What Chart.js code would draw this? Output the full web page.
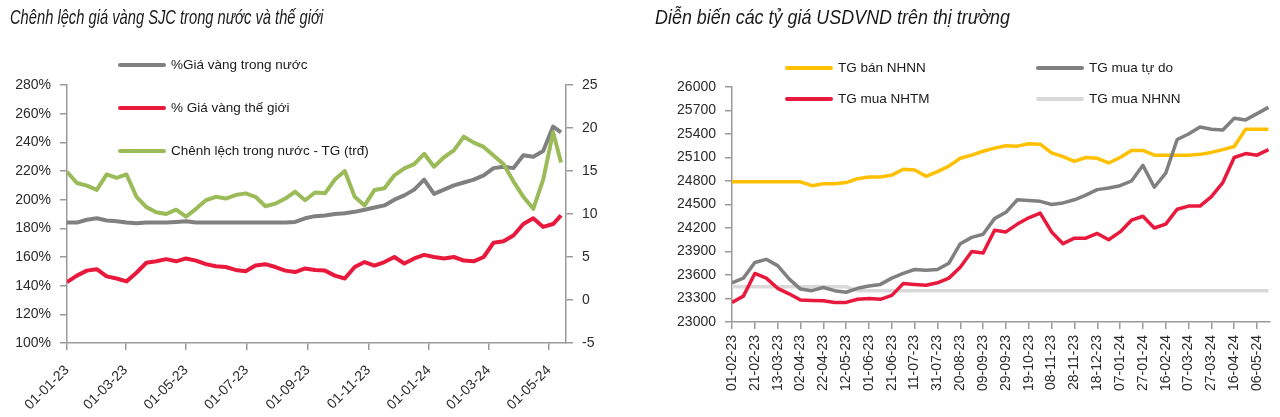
<!DOCTYPE html>
<html>
<head>
<meta charset="utf-8">
<script src="https://cdn.jsdelivr.net/npm/chart.js@4.4.1/dist/chart.umd.min.js"></script>
<style>
  body { margin: 0; background: #fff; font-family: "Liberation Sans", Arial, sans-serif; }
  #page { position: relative; width: 1280px; height: 417px; overflow: hidden; }
  .panel { position: absolute; top: 0; width: 640px; height: 417px; }
  .title { position: absolute; top: 6px; font-style: italic; font-size: 21px; line-height: 21px; color: #1a1a1a; white-space: nowrap; transform-origin: 0 0; }
  .lg { position: absolute; font-size: 13.5px; line-height: 16px; color: #1a1a1a; white-space: nowrap; }
  .sw { position: absolute; height: 4px; border-radius: 2px; }
</style>
</head>
<body>
<div id="page">
  <div class="panel" style="left:0"><canvas id="gold" width="640" height="417"></canvas></div>
  <div class="panel" style="left:640px"><canvas id="fx" width="640" height="417"></canvas></div>
  <div class="title" id="t1" style="left:10px" data-w="313">Chênh lệch giá vàng SJC trong nước và thế giới</div>
  <div class="title" id="t2" style="left:655px" data-w="355">Diễn biến các tỷ giá USDVND trên thị trường</div>
</div>
<script>
// ---- vàng SJC (ngày lấy mẫu, giá trị)
const goldDates = ['2023-01-01','2023-01-11','2023-01-21','2023-01-31','2023-02-10','2023-02-20','2023-03-02','2023-03-12','2023-03-22','2023-04-01',
  '2023-04-11','2023-04-21','2023-05-01','2023-05-11','2023-05-21','2023-05-31','2023-06-10','2023-06-20','2023-06-30','2023-07-10',
  '2023-07-20','2023-07-30','2023-08-09','2023-08-19','2023-08-29','2023-09-08','2023-09-18','2023-09-28','2023-10-08','2023-10-18',
  '2023-10-28','2023-11-07','2023-11-17','2023-11-27','2023-12-07','2023-12-17','2023-12-27','2024-01-06','2024-01-16','2024-01-26',
  '2024-02-05','2024-02-15','2024-02-25','2024-03-06','2024-03-16','2024-03-26','2024-04-05','2024-04-15','2024-04-25','2024-05-05','2024-05-13'];
const goldDomestic = [184,184,186,187,185.5,185,184,183.5,184,184,
  184,184.5,185,184,184,184,184,184,184,184,
  184,184,184,184.5,187,188.5,189,190,190.5,191.5,
  193,194.5,196,200,203,207,214,204,207,210,
  212,214,217,222,223,222,231,230,234,251,247];
const goldWorld = [142.5,147,150.5,151.5,146.5,145,143,149,156,157,
  158.5,157,159,157.5,155,153.5,153,151,150,154,
  155,153,150.5,149.5,152,151,150.5,147,145,153,
  156.5,154,156.5,160,155.5,159,161.5,160,159,160,
  157.5,157,160,170,171,175,183,187,181,183,189];
const goldGap = [14.9,13.6,13.3,12.8,14.6,14.2,14.6,12.0,10.8,10.2,
  10.0,10.5,9.7,10.6,11.6,12.0,11.8,12.2,12.4,12.0,
  10.9,11.2,11.8,12.6,11.6,12.5,12.4,14.0,15.0,12.0,
  11.0,12.8,13.0,14.5,15.3,15.8,17.0,15.5,16.6,17.4,
  19.0,18.3,17.8,16.8,15.8,13.8,12.0,10.6,14.0,19.5,16.0];
const goldTicks = ['01-01-23','01-03-23','01-05-23','01-07-23','01-09-23','01-11-23','01-01-24','01-03-24','01-05-24'];
const goldNames = ['%Giá vàng trong nước','% Giá vàng thế giới','Chênh lệch trong nước - TG (trđ)'];

// ---- tỷ giá USDVND
const fxDates = ['2023-02-01','2023-02-11','2023-02-21','2023-03-03','2023-03-13','2023-03-23','2023-04-02','2023-04-12','2023-04-22','2023-05-02',
  '2023-05-12','2023-05-22','2023-06-01','2023-06-11','2023-06-21','2023-07-01','2023-07-11','2023-07-21','2023-07-31','2023-08-10',
  '2023-08-20','2023-08-30','2023-09-09','2023-09-19','2023-09-29','2023-10-09','2023-10-19','2023-10-29','2023-11-08','2023-11-18',
  '2023-11-28','2023-12-08','2023-12-18','2023-12-28','2024-01-07','2024-01-17','2024-01-27','2024-02-06','2024-02-16','2024-02-26',
  '2024-03-07','2024-03-17','2024-03-27','2024-04-06','2024-04-16','2024-04-26','2024-05-06','2024-05-16'];
const fxSbvSell = [24790,24790,24790,24790,24790,24790,24790,24740,24765,24765,
  24780,24830,24850,24850,24875,24950,24940,24860,24920,24990,
  25090,25130,25180,25220,25250,25245,25275,25270,25160,25110,
  25050,25100,25090,25030,25100,25190,25190,25130,25130,25130,
  25130,25140,25165,25200,25240,25460,25460,25460];
const fxFree = [23500,23560,23760,23800,23720,23550,23420,23400,23440,23400,
  23380,23430,23460,23480,23560,23620,23670,23660,23670,23750,
  24000,24080,24120,24320,24400,24560,24550,24540,24500,24520,
  24560,24620,24690,24710,24740,24800,25000,24720,24900,25330,
  25400,25490,25460,25450,25600,25580,25660,25740];
const fxBank = [23250,23330,23620,23560,23430,23360,23280,23275,23270,23250,
  23250,23290,23300,23290,23340,23490,23480,23470,23500,23560,
  23700,23900,23880,24170,24150,24250,24330,24390,24150,24000,
  24070,24070,24130,24050,24150,24300,24350,24200,24250,24440,
  24480,24480,24600,24780,25100,25150,25130,25200];
const fxSbvBuy = [23450,23450,23450,23450,23450,23450,23450,23450,23450,23450,
  23450,23400,23400,23400,23400,23400,23400,23400,23400,23400,
  23400,23400,23400,23400,23400,23400,23400,23400,23400,23400,
  23400,23400,23400,23400,23400,23400,23400,23400,23400,23400,
  23400,23400,23400,23400,23400,23400,23400,23400];
const fxTicks = ['01-02-23','21-02-23','13-03-23','02-04-23','22-04-23','12-05-23','01-06-23','21-06-23','11-07-23','31-07-23',
  '20-08-23','09-09-23','29-09-23','19-10-23','08-11-23','28-11-23','18-12-23','07-01-24','27-01-24','16-02-24',
  '07-03-24','27-03-24','16-04-24','06-05-24'];
const fxNames = ['TG bán NHNN','TG mua tự do','TG mua NHTM','TG mua NHNN'];

const DAY = 864e5;
const dmy = s => { const [d, m, y] = s.split('-').map(Number); return Date.UTC(2000 + y, m - 1, d); };
const iso = s => Date.parse(s + 'T00:00:00Z');
const pts = (dates, vals, base) => dates.map((d, i) => ({ x: (iso(d) - base) / DAY, y: vals[i] }));

const axisCol = '#9a9a9a';
const tickFont = { family: '"Liberation Sans", Arial, sans-serif', size: 14 };
const gridOff = { drawOnChartArea: false, drawTicks: true, tickLength: 7, color: axisCol, lineWidth: 1.5 };
const border = { display: true, color: axisCol, width: 1.5 };
const line = (data, color, w, yAxisID) => ({ data, borderColor: color, borderWidth: w, pointRadius: 0, tension: 0, yAxisID, borderJoinStyle: 'round' });

Chart.defaults.color = '#2b2b2b';

// ---- biểu đồ trái
const g0 = Date.UTC(2023, 0, 1);
new Chart(document.getElementById('gold'), {
  type: 'line',
  data: {
    datasets: [
      line(pts(goldDates, goldGap, g0), '#9bbb59', 4, 'y1'),
      line(pts(goldDates, goldDomestic, g0), '#808080', 4, 'y'),
      line(pts(goldDates, goldWorld, g0), '#e8193c', 4, 'y')
    ]
  },
  options: {
    responsive: false, animation: false, events: [],
    layout: { padding: { top: 85, left: 0, right: 0, bottom: 0 } },
    plugins: { legend: { display: false }, tooltip: { enabled: false } },
    scales: {
      x: {
        type: 'linear', min: 0, max: 503,
        afterBuildTicks: s => { s.ticks = goldTicks.map(t => ({ value: (dmy(t) - g0) / DAY })); },
        afterFit: s => { s.height = 74; },
        ticks: { autoSkip: false, minRotation: 45, maxRotation: 45, padding: 12, font: tickFont, callback: (v, i) => goldTicks[i] },
        grid: gridOff, border
      },
      y: {
        position: 'left', min: 100, max: 280,
        afterFit: s => { s.width = 67; },
        ticks: { stepSize: 20, padding: 9, font: tickFont, callback: v => v + '%' },
        grid: gridOff, border
      },
      y1: {
        position: 'right', min: -5, max: 25,
        afterFit: s => { s.width = 74; },
        ticks: { stepSize: 5, padding: 9, font: tickFont, callback: v => String(v) },
        grid: gridOff, border
      }
    }
  }
});

// ---- biểu đồ phải
const f0 = Date.UTC(2023, 1, 1);
new Chart(document.getElementById('fx'), {
  type: 'line',
  data: {
    datasets: [
      line(pts(fxDates, fxFree, f0), '#808080', 3.5, 'y'),
      line(pts(fxDates, fxBank, f0), '#e8193c', 3.5, 'y'),
      line(pts(fxDates, fxSbvSell, f0), '#ffc000', 3.5, 'y'),
      line(pts(fxDates, fxSbvBuy, f0), '#d9d9d9', 3.5, 'y')
    ]
  },
  options: {
    responsive: false, animation: false, events: [],
    layout: { padding: { top: 87, left: 0, right: 6, bottom: 0 } },
    plugins: { legend: { display: false }, tooltip: { enabled: false } },
    scales: {
      x: {
        type: 'linear', min: 0, max: 471,
        afterBuildTicks: s => { s.ticks = fxTicks.map(t => ({ value: (dmy(t) - f0) / DAY })); },
        afterFit: s => { s.height = 95; },
        ticks: { autoSkip: false, minRotation: 90, maxRotation: 90, padding: 6, font: tickFont, callback: (v, i) => fxTicks[i] },
        grid: gridOff, border
      },
      y: {
        position: 'left', min: 23000, max: 26000,
        afterFit: s => { s.width = 92; },
        ticks: { stepSize: 300, padding: 9, font: tickFont, callback: v => String(v) },
        grid: gridOff, border
      }
    }
  }
});

// ---- chú thích (HTML)
const page = document.getElementById('page');
function legendItem(x, y, w, color, text) {
  const sw = document.createElement('div');
  sw.className = 'sw';
  sw.style.cssText = `left:${x}px;top:${y - 2}px;width:${w}px;background:${color}`;
  const lb = document.createElement('div');
  lb.className = 'lg';
  lb.style.cssText = `left:${x + w + 5}px;top:${y - 8}px`;
  lb.textContent = text;
  page.appendChild(sw); page.appendChild(lb);
}
legendItem(118, 65, 48, '#808080', goldNames[0]);
legendItem(118, 108, 48, '#e8193c', goldNames[1]);
legendItem(118, 151, 48, '#9bbb59', goldNames[2]);
legendItem(785, 68, 48, '#ffc000', fxNames[0]);
legendItem(1036, 68, 48, '#808080', fxNames[1]);
legendItem(785, 99, 48, '#e8193c', fxNames[2]);
legendItem(1036, 99, 48, '#d9d9d9', fxNames[3]);

// tiêu đề: nén ngang cho giống font hẹp
document.querySelectorAll('.title').forEach(el => {
  el.style.transform = `scaleX(${el.dataset.w / el.offsetWidth})`;
});
</script>
</body>
</html>
